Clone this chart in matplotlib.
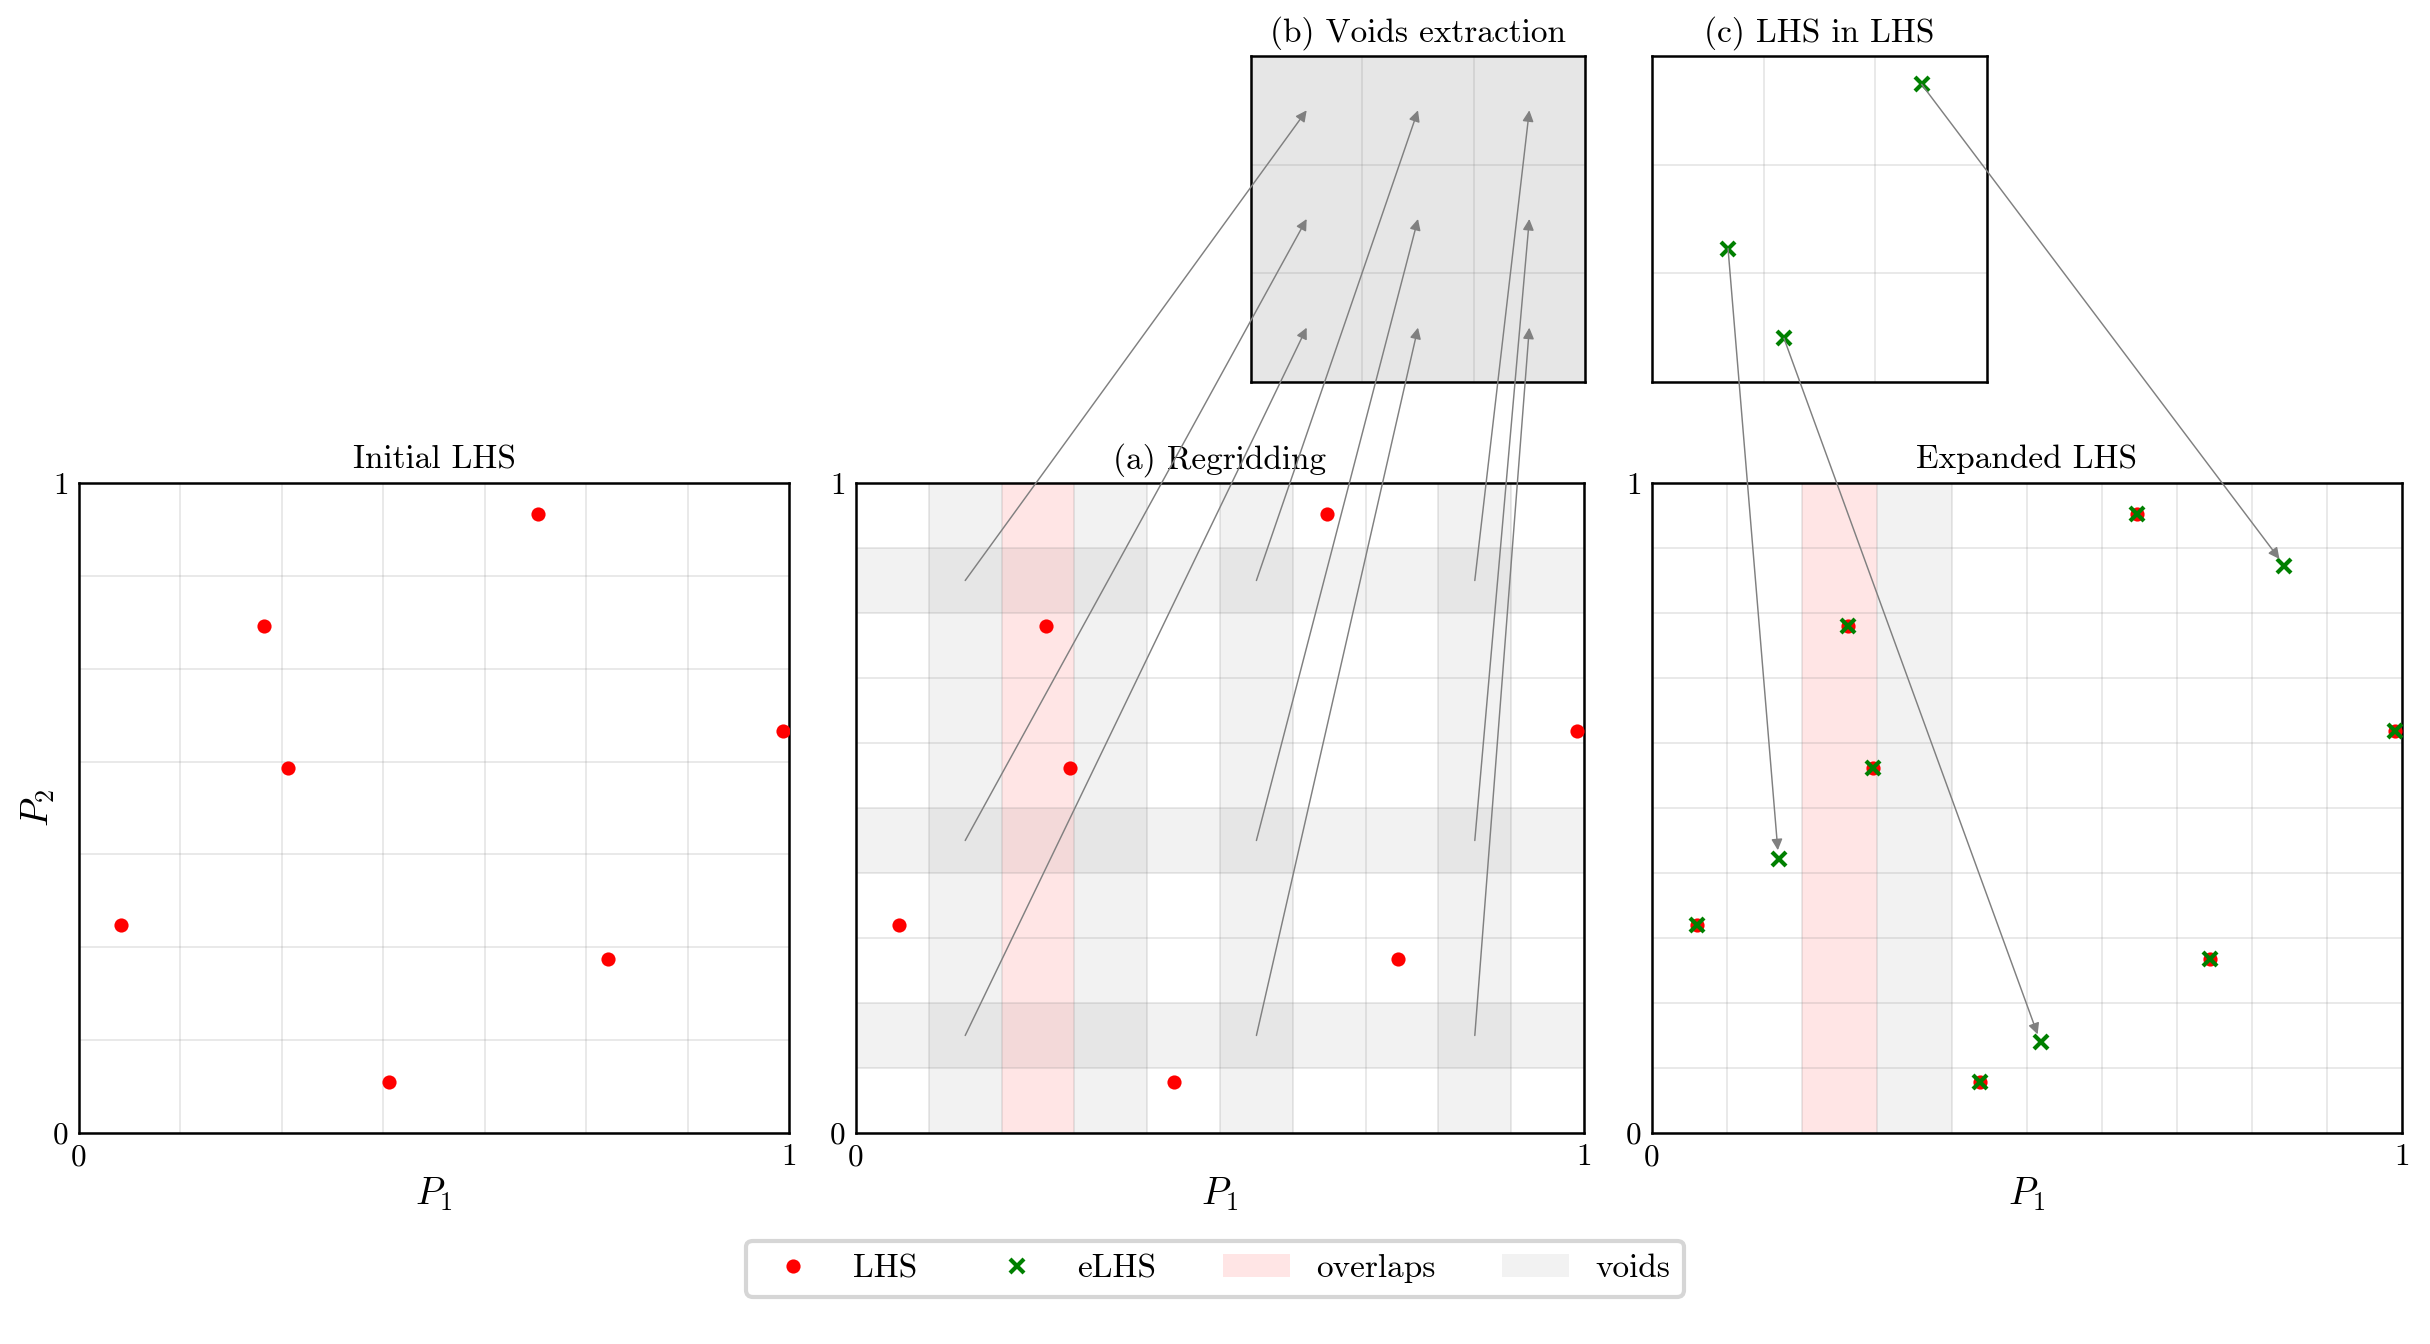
import numpy as np
import matplotlib
matplotlib.use("Agg")
import matplotlib.pyplot as plt
from matplotlib.patches import ConnectionPatch, Patch
from matplotlib.lines import Line2D

plt.rcParams.update({
    "font.family": "serif",
    "font.serif": ["cmr10"],
    "mathtext.fontset": "cm",
    "font.size": 8,
    "axes.formatter.use_mathtext": True,
})

# ---- data ----
lhs_x = [0.0596, 0.2607, 0.2946, 0.4367, 0.6470, 0.7445, 0.9910]
lhs_y = [0.3200, 0.7794, 0.5620, 0.0785, 0.9520, 0.2684, 0.6185]

new_x = [0.1687, 0.5180, 0.8433]
new_y = [0.4223, 0.1397, 0.8728]

inner_x = [0.227, 0.394, 0.805]
inner_y = [0.409, 0.134, 0.913]

n_initial = 7
n_expanded = 10
n_inner = 3

void_cols = [0.1, 0.3, 0.5, 0.8]
void_rows = [0.1, 0.4, 0.8]
overlap_cols = [0.2]
used_void_cols = [0.1, 0.5, 0.8]
remaining_void_cols = [0.3]
cell = 0.1

titles = ["Initial LHS", "(a) Regridding", "Expanded LHS",
          "(b) Voids extraction", "(c) LHS in LHS"]

fig = plt.figure(figsize=(8.1, 4.48), dpi=300)
W, H = 2430, 1344


def frac(x0, x1, y0, y1):
    return [x0 / W, 1 - y1 / H, (x1 - x0) / W, (y1 - y0) / H]


ax1 = fig.add_axes(frac(79, 789, 483, 1133))
ax2 = fig.add_axes(frac(856, 1584, 483, 1133))
ax3 = fig.add_axes(frac(1652, 2402, 483, 1133))
axb = fig.add_axes(frac(1251, 1585, 56, 382))
axc = fig.add_axes(frac(1652, 1987, 56, 382))


def setup(ax, n, labels=True):
    t = np.linspace(0, 1, n + 1)
    ax.set_xlim(0, 1)
    ax.set_ylim(0, 1)
    ax.set_xticks(t)
    ax.set_yticks(t)
    lab = (["0"] + [""] * (n - 1) + ["1"]) if labels else [""] * (n + 1)
    ax.set_xticklabels(lab)
    ax.set_yticklabels(lab)
    ax.tick_params(length=0, pad=2.5, labelsize=7.5)
    ax.grid(True, color="gray", alpha=0.2, lw=0.4)
    for s in ax.spines.values():
        s.set_linewidth(0.6)


setup(ax1, n_initial)
setup(ax2, n_expanded)
setup(ax3, n_expanded)
setup(axb, n_inner, labels=False)
setup(axc, n_inner, labels=False)
axb.set_facecolor((0.9, 0.9, 0.9))

for ax, t in zip([ax1, ax2, ax3, axb, axc], titles):
    ax.set_title(t, pad=3.5, fontsize=8)

for ax in [ax1, ax2, ax3]:
    ax.set_xlabel("$P_1$", labelpad=1, fontsize=9)
ax1.set_ylabel("$P_2$", labelpad=-1, fontsize=9)

ms_dot = 3.4
ms_x = 3.3
# Panel 1
ax1.plot(lhs_x, lhs_y, "o", color="red", ms=ms_dot, mew=0, zorder=3)

# Panel (a)
for c in void_cols:
    ax2.axvspan(c, c + cell, color="gray", alpha=0.1, lw=0)
for r in void_rows:
    ax2.axhspan(r, r + cell, color="gray", alpha=0.1, lw=0)
for c in overlap_cols:
    ax2.axvspan(c, c + cell, color="red", alpha=0.1, lw=0)
ax2.plot(lhs_x, lhs_y, "o", color="red", ms=ms_dot, mew=0, zorder=3)

# Expanded panel
for c in overlap_cols:
    ax3.axvspan(c, c + cell, color="red", alpha=0.1, lw=0)
for c in remaining_void_cols:
    ax3.axvspan(c, c + cell, color="gray", alpha=0.1, lw=0)
ax3.plot(lhs_x, lhs_y, "o", color="red", ms=ms_dot, mew=0, zorder=3)
ax3.plot(lhs_x + new_x, lhs_y + new_y, "x", color="green", ms=ms_x, mew=1.0, zorder=4)

# Inset (c)
axc.plot(inner_x, inner_y, "x", color="green", ms=ms_x, mew=1.0, zorder=4)

# Arrows (a) -> (b)
for i, cx in enumerate(used_void_cols):
    for j, ry in enumerate(void_rows):
        con = ConnectionPatch(xyA=(cx + cell / 2, ry + cell / 2), coordsA=ax2.transData,
                              xyB=((i + 0.5) / 3, (j + 0.5) / 3), coordsB=axb.transData,
                              arrowstyle="-|>", color="gray", lw=0.35,
                              mutation_scale=5.5, shrinkA=0, shrinkB=0)
        fig.add_artist(con)

# Arrows (c) -> expanded
for xi, yi, xn, yn in zip(inner_x, inner_y, new_x, new_y):
    con = ConnectionPatch(xyA=(xi, yi), coordsA=axc.transData,
                          xyB=(xn, yn), coordsB=ax3.transData,
                          arrowstyle="-|>", color="gray", lw=0.35,
                          mutation_scale=5.5, shrinkA=0, shrinkB=2)
    fig.add_artist(con)

handles = [
    Line2D([], [], marker="o", ls="none", color="red", ms=ms_dot, mew=0),
    Line2D([], [], marker="x", ls="none", color="green", ms=ms_x, mew=1.0),
    Patch(facecolor="red", alpha=0.1, edgecolor="none"),
    Patch(facecolor="gray", alpha=0.1, edgecolor="none"),
]
fig.legend(handles, ["LHS", "eLHS", "overlaps", "voids"], loc="center",
           bbox_to_anchor=(0.5, 1 - 1268.5 / H), ncol=4)

fig.savefig("out.png", dpi=300)
